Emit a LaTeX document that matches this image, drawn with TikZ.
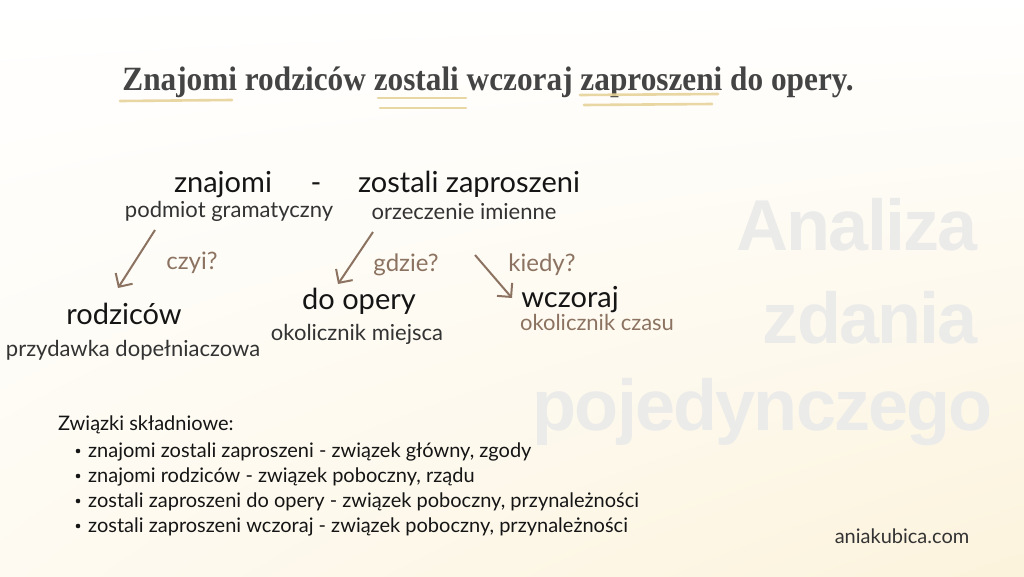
\documentclass[tikz,border=0pt]{standalone}
\usepackage{fontspec}
\setmainfont{Lato}
\newfontfamily\titlefont{Liberation Serif}
\newfontfamily\wmfont[LetterSpace=-2.5]{Liberation Sans}
\usetikzlibrary{arrows.meta,shadings}
\definecolor{bgcream}{HTML}{FCF3DC}
\definecolor{brownc}{HTML}{8C7361}
\definecolor{inkc}{HTML}{151515}
\definecolor{labc}{HTML}{333333}
\definecolor{goldc}{HTML}{E6D29A}
\definecolor{wmc}{HTML}{EBEBEA}
\definecolor{titc}{HTML}{444444}
\tikzset{
  word/.style={font=\fontsize{29}{32}\selectfont, text=inkc, inner sep=0pt, anchor=base},
  role/.style={font=\fontsize{22}{25}\selectfont, text=labc, inner sep=0pt, anchor=base},
  quest/.style={font=\fontsize{24}{27}\selectfont, text=brownc, inner sep=0pt, anchor=base},
  arr/.style={draw=brownc, line width=2pt, -{Straight Barb[length=10pt,width=20pt,line width=2pt]}},
  brush/.style={draw=goldc, line width=2.6pt, line cap=round, opacity=0.9},
  wm/.style={font=\wmfont\bfseries\fontsize{72}{80}\selectfont, text=wmc, inner sep=0pt, anchor=base east},
  listt/.style={font=\fontsize{20}{22}\selectfont, text=inkc, inner sep=0pt, anchor=base west}
}
\begin{document}
\begin{tikzpicture}[x=1pt,y=-1pt]
\useasboundingbox (0,0) rectangle (1024,576);
\shade[upper left=white, upper right=white, lower left=white!60!bgcream, lower right=bgcream] (0,0) rectangle (1024,576);
% watermark
\node[wm] (w1) at (978,250) {Analiza};
\node[wm] (w2) at (978,343) {zdania};
\node[wm] (w3) at (993,430) {pojedynczego};
% title
\node[font=\titlefont\bfseries\fontsize{34}{38}\selectfont, text=titc, inner sep=0pt, anchor=base] (title) at (488,90) {\scalebox{0.92}[1]{Znajomi rodziców zostali wczoraj zaproszeni do opery.}};
\draw[brush] (120,101) -- (232,100);
\draw[brush] (378,98) -- (466,98);
\draw[brush] (380,108) -- (466,108);
\draw[brush] (580,95) -- (718,94);
\draw[brush] (584,105) -- (712,104);
% diagram
\node[word] (znajomi) at (223,192) {znajomi};
\node[word] (dash) at (316,192) {-};
\node[word] (zostali) at (469,192) {zostali zaproszeni};
\node[role] (podmiot) at (229,217) {podmiot gramatyczny};
\node[role] (orzecz) at (464,219) {orzeczenie imienne};
\node[word] (rodzicow) at (124,324) {rodziców};
\node[role] (przyd) at (133,356) {przydawka dopełniaczowa};
\node[word] (doopery) at (359,309) {do opery};
\node[role] (miejsca) at (357,340) {okolicznik miejsca};
\node[word] (wczoraj) at (570,307) {wczoraj};
\node[role, text=brownc] (czasu) at (597,330) {okolicznik czasu};
\node[quest] (czyi) at (192,269) {czyi?};
\node[quest] (gdzie) at (406,271) {gdzie?};
\node[quest] (kiedy) at (542,271) {kiedy?};
\coordinate (a1s) at (155,230); \coordinate (a1e) at (118,288);
\coordinate (a2s) at (373,232); \coordinate (a2e) at (338,284);
\coordinate (a3s) at (475,255); \coordinate (a3e) at (512,298);
\draw[arr] (a1s) -- (a1e);
\draw[arr] (a2s) -- (a2e);
\draw[arr] (a3s) -- (a3e);
% list
\node[listt] (zw) at (58,430) {Związki składniowe:};
\foreach \i/\t in {1/{znajomi zostali zaproszeni - związek główny, zgody},
                   2/{znajomi rodziców - związek poboczny, rządu},
                   3/{zostali zaproszeni do opery - związek poboczny, przynależności},
                   4/{zostali zaproszeni wczoraj - związek poboczny, przynależności}}{
  \node[listt] (b\i) at (88,432+25*\i) {\t};
  \fill[inkc] (78,426+25*\i) circle (2.3pt);
}
\node[font=\fontsize{20}{22}\selectfont, text=labc, inner sep=0pt, anchor=base] (site) at (902,543) {aniakubica.com};
\end{tikzpicture}
\end{document}
